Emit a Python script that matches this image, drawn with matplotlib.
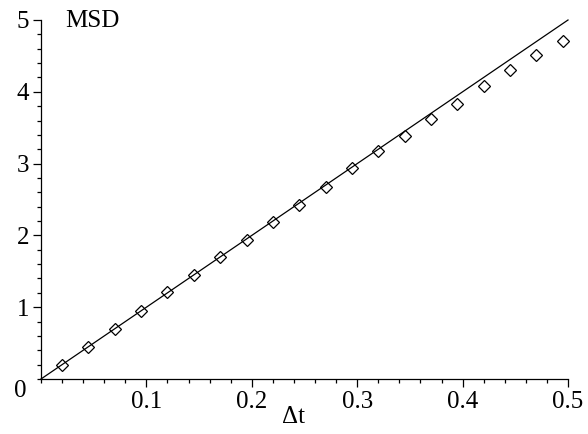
import matplotlib
matplotlib.use("Agg")
import matplotlib.pyplot as plt
from matplotlib import font_manager
from matplotlib.ticker import MultipleLocator, FixedLocator

# pick a Times-like serif that is installed
names = {f.name for f in font_manager.fontManager.ttflist}
serif = [n for n in ["Liberation Serif", "Times New Roman", "Nimbus Roman",
                     "TeX Gyre Termes", "DejaVu Serif"] if n in names]
plt.rcParams["font.family"] = serif + ["DejaVu Sans"]

# measured mean square displacement
dt = [0.02, 0.045, 0.07, 0.095, 0.12, 0.145, 0.17, 0.195, 0.22, 0.245,
      0.27, 0.295, 0.32, 0.345, 0.37, 0.395, 0.42, 0.445, 0.47, 0.495]
msd = [0.19, 0.45, 0.70, 0.95, 1.21, 1.45, 1.70, 1.93, 2.18, 2.42,
       2.67, 2.94, 3.17, 3.39, 3.62, 3.83, 4.08, 4.31, 4.51, 4.71]

# theoretical line MSD = 10 * dt
line_t = [0.0, 0.5]
line_msd = [0.0, 5.0]

xticks = [0.1, 0.2, 0.3, 0.4, 0.5]
xticklabels = ["0.1", "0.2", "0.3", "0.4", "0.5"]
yticks = [1, 2, 3, 4, 5]
yticklabels = ["1", "2", "3", "4", "5"]

fig = plt.figure(figsize=(5.88, 4.34), dpi=100)
ax = fig.add_axes([41 / 588, 55 / 434, 527 / 588, 359 / 434])

ax.plot(line_t, line_msd, color="black", lw=0.9, clip_on=False)
ax.plot(dt, msd, ls="none", marker="D", ms=6.5, mfc="none", mec="black",
        mew=0.9, clip_on=False)

ax.set_xlim(0, 0.5)
ax.set_ylim(0, 5)

for s in ["top", "right"]:
    ax.spines[s].set_visible(False)
for s in ["left", "bottom"]:
    ax.spines[s].set_linewidth(0.9)

ax.xaxis.set_major_locator(FixedLocator(xticks))
ax.set_xticklabels(xticklabels)
ax.xaxis.set_minor_locator(MultipleLocator(0.02))
ax.yaxis.set_major_locator(FixedLocator(yticks))
ax.set_yticklabels(yticklabels)
ax.yaxis.set_minor_locator(MultipleLocator(0.2))

ax.tick_params(which="major", direction="out", length=5.5, width=0.9,
               labelsize=18, pad=3)
ax.tick_params(which="minor", direction="out", length=3, width=0.9)

# origin label
ax.annotate("0", xy=(0, 0), xytext=(-21, -12), textcoords="offset pixels",
            ha="center", va="center", fontsize=18, annotation_clip=False)

ax.text(0.097, 0.997, "MSD", transform=ax.transAxes, ha="center",
        va="center", fontsize=18)
ax.text(0.4795, -0.107, "Δt", transform=ax.transAxes, ha="center",
        va="center", fontsize=18)

fig.savefig("out.png", dpi=100)
